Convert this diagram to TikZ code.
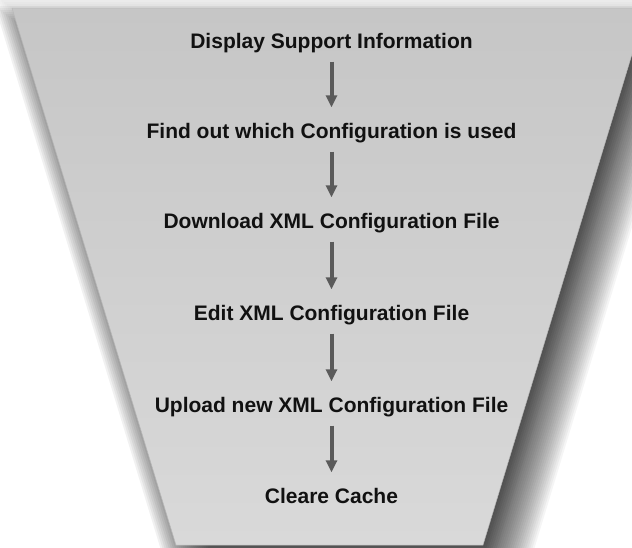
\documentclass[tikz,border=0pt]{standalone}
\usepackage{fontspec}
\setmainfont{Liberation Sans}
\usetikzlibrary{arrows.meta}
\definecolor{funneltop}{HTML}{C6C6C6}
\definecolor{funnelbottom}{HTML}{D9D9D9}
\definecolor{funneledge}{HTML}{B8B8B8}
\definecolor{arrowgray}{HTML}{5A5A5A}
\definecolor{textdark}{HTML}{111111}
\begin{document}
\begin{tikzpicture}[x=1pt,y=-1pt,
  stagelabel/.style={anchor=base, inner sep=0pt, text height=15pt, text depth=0pt,
    text=textdark, font=\bfseries\fontsize{21}{25}\selectfont},
  flowarrow/.style={draw=arrowgray, line width=4pt,
    -{Triangle[width=11pt,length=12pt]}, shorten <=13.5pt, shorten >=15.5pt}]
\useasboundingbox (0,0) rectangle (632,547);
\clip (0,0) rectangle (632,547);
% soft glow around the funnel
\foreach \r in {-16,-14,...,16}
  \fill[black, opacity=0.014]
    ({12-1.351*\r},{8-\r}) -- ({646+1.351*\r},{8-\r}) --
    ({483+0.741*\r},{545+\r}) -- ({176-0.741*\r},{545+\r}) -- cycle;
% drop shadow, offset to the lower right
\foreach \r in {-26,-24,...,26}
  \fill[black, opacity=0.038, shift={(18,24)}]
    ({12-1.351*\r},{8-\r}) -- ({646+1.351*\r},{8-\r}) --
    ({483+0.741*\r},{545+\r}) -- ({176-0.741*\r},{545+\r}) -- cycle;
% funnel body
\shade[top color=funneltop, bottom color=funnelbottom, draw=funneledge, line width=0.5pt]
  (12,8) -- (646,8) -- (483,545) -- (176,545) -- cycle;
% stages
\node[stagelabel] (s1) at (331.5,48)  {Display Support Information};
\node[stagelabel] (s2) at (331.5,138) {Find out which Configuration is used};
\node[stagelabel] (s3) at (331.5,228) {Download XML Configuration File};
\node[stagelabel] (s4) at (331.5,320) {Edit XML Configuration File};
\node[stagelabel] (s5) at (331.5,412) {Upload new XML Configuration File};
\node[stagelabel] (s6) at (331.5,503) {Cleare Cache};
\foreach \a/\b in {s1/s2,s2/s3,s3/s4,s4/s5,s5/s6}
  \draw[flowarrow] (\a) -- (\b);
\end{tikzpicture}
\end{document}
